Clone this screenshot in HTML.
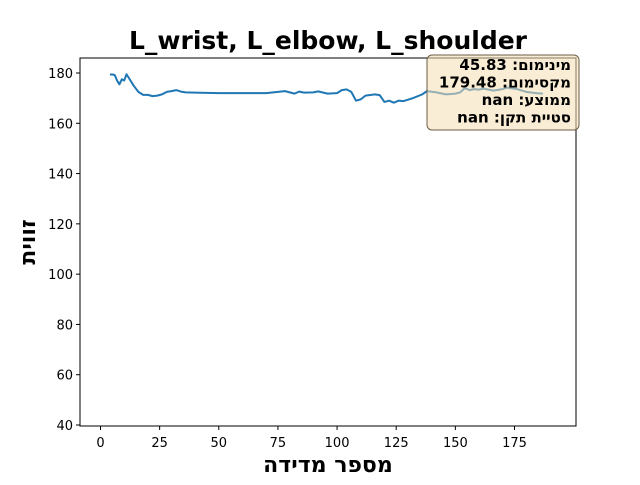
<!DOCTYPE html>
<html><head><meta charset="utf-8"><style>
body{margin:0;background:#fff;}
svg text{font-family:"DejaVu Sans","Liberation Sans",sans-serif;}
</style></head><body>
<svg width="640" height="480" viewBox="0 0 640 480">
<rect width="640" height="480" fill="#fff"/>
<text x="328" y="49" text-anchor="middle" font-size="25" font-weight="bold">L_wrist, L_elbow, L_shoulder</text>
<g id="plot"></g>
<text x="328" y="472" text-anchor="middle" font-size="22" font-weight="bold" direction="rtl">מספר מדידה</text>
<text transform="translate(35,242) rotate(-90)" text-anchor="middle" font-size="22" font-weight="bold" direction="rtl">זווית</text>
</svg>
<script>
const xs=[4,5,6,7,8,9,10,11,12,14,16,18,20,22,24,26,28,30,32,34,36,40,50,60,70,75,78,80,82,84,86,90,92,96,100,102,104,106,108,110,112,116,118,120,122,124,126,128,132,136,138,142,146,150,152,154,156,158,160,162,166,170,172,176,180,184,187];
const ys=[179.4,179.4,179.2,177,175.5,177.5,177,179.5,178,175,172.5,171.3,171.3,170.8,171,171.5,172.5,172.8,173.2,172.6,172.3,172.2,172,172,172,172.5,172.8,172.3,171.8,172.6,172.2,172.3,172.7,171.8,172,173.2,173.5,172.5,169,169.5,171,171.5,171.2,168.5,169,168.2,169,168.8,170,171.5,172.8,172.3,171.5,171.8,172.3,174,173.2,173.6,173.4,173.8,173,173.6,174.2,173.6,172.5,172,171.8];
const xTicks=[0,25,50,75,100,125,150,175];
const yTicks=[40,60,80,100,120,140,160,180];
const statLines=["מינימום: 45.83","מקסימום: 179.48","ממוצע: nan","סטיית תקן: nan"];
const L=80,R=576,T=58,B=426;
const X=v=>100.5+v*(414/175);
const Y=v=>73+(180-v)*(352/140);
const ns="http://www.w3.org/2000/svg";
const g=document.getElementById('plot');
function mk(t,a,txt){const e=document.createElementNS(ns,t);for(const k in a)e.setAttribute(k,a[k]);if(txt!==undefined)e.textContent=txt;g.appendChild(e);return e;}
const fr=mk('rect',{x:L,y:T,width:R-L,height:B-T,fill:'#fff',stroke:'#000','stroke-width':1});


xTicks.forEach(v=>{
 const l=mk('line',{x1:X(v),x2:X(v),y1:B,y2:B+4,stroke:'#000'});
 
 
 const t=mk('text',{x:X(v),y:B+21,'text-anchor':'middle','font-size':13},String(v));
 
 
});
yTicks.forEach(v=>{
 const l=mk('line',{x1:L-4,x2:L,y1:Y(v),y2:Y(v),stroke:'#000'});
 
 
 const t=mk('text',{x:L-7,y:Y(v)+5,'text-anchor':'end','font-size':13},String(v));
 
 
});
const p=mk('polyline',{points:xs.map((x,i)=>X(x)+','+Y(ys[i])).join(' '),fill:'none',stroke:'#1f77b4','stroke-width':2,'stroke-linejoin':'round'});


const box=mk('rect',{x:427,y:55,width:152,height:75,rx:5,fill:'#f5deb3','fill-opacity':0.55,stroke:'#6b5c45','stroke-width':1});


statLines.forEach((s,i)=>{
 const t=mk('text',{x:571,y:70+i*17.5,'text-anchor':'start',direction:'rtl','font-size':15,'font-weight':'bold'},s);
 
 
});
</script>
</body></html>
